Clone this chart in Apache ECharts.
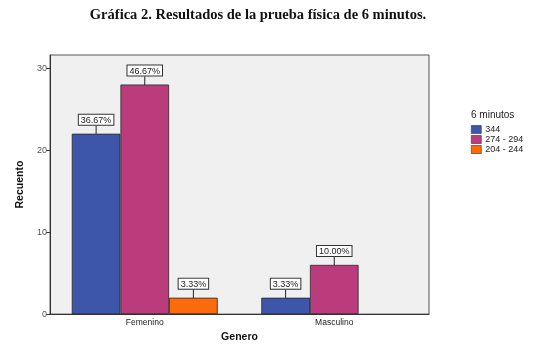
<!DOCTYPE html>
<html><head><meta charset="utf-8">
<script src="https://cdn.jsdelivr.net/npm/echarts@6/dist/echarts.min.js"></script>
<style>html,body{margin:0;padding:0;background:#fff}#c{width:536px;height:348px}</style>
</head><body><div id="c"></div>
<script>
var categories = ['Femenino', 'Masculino'];
var seriesNames = ['344', '274 - 294', '204 - 244'];
var s344 = [22, 2];
var s274 = [28, 6];
var s204 = [2, null];
var total = 60;
var yTicks = [0, 10, 20, 30];
var colors = ['#3d56aa', '#ba3c7d', '#fb6a0c'];

var chart = echarts.init(document.getElementById('c'));
function mk(name, data, color) {
  return {
    name: name, type: 'bar', data: data, barGap: '0%', barCategoryGap: '23%',
    itemStyle: { color: color, borderColor: '#2a2a2a', borderWidth: 0.8 },
    label: {
      show: true, position: 'top', distance: 0,
      formatter: function (p) { return (p.value / total * 100).toFixed(2) + '%'; },
      fontFamily: 'Liberation Sans', fontSize: 9, color: '#222',
      backgroundColor: '#fff', borderColor: '#333', borderWidth: 1, padding: [1, 2, 0, 2]
    },
    labelLayout: { dy: -9 },
    labelLine: { show: true, lineStyle: { color: '#222', width: 1 } }
  };
}
chart.setOption({
  animation: false,
  title: [
    { text: 'Gráfica 2. Resultados de la prueba física de 6 minutos.', left: 253, top: 3, textAlign: 'center',
      textStyle: { fontFamily: 'Liberation Serif', fontWeight: 'bold', fontSize: 14.5, color: '#111' } },
    { text: '6 minutos', left: 466, top: 105,
      textStyle: { fontFamily: 'Liberation Sans', fontWeight: 'normal', fontSize: 10, color: '#222' } }
  ],
  legend: {
    orient: 'vertical', left: 466, top: 120, itemWidth: 10, itemHeight: 8, itemGap: 1,
    icon: 'rect', data: seriesNames,
    textStyle: { fontFamily: 'Liberation Sans', fontSize: 9, color: '#222', padding: [0, 0, 0, -1] },
    itemStyle: { borderColor: '#333', borderWidth: 0.6 }
  },
  grid: { left: 50, right: 107, top: 55, bottom: 30, show: true, backgroundColor: '#f0f0f0', borderColor: '#555', borderWidth: 1 },
  xAxis: {
    type: 'category', data: categories, name: 'Genero', nameLocation: 'middle', nameGap: 15,
    nameTextStyle: { fontFamily: 'Liberation Sans', fontWeight: 'bold', fontSize: 10.5, color: '#111' },
    axisLine: { lineStyle: { color: '#333' } },
    axisTick: { alignWithLabel: true, length: 3, lineStyle: { color: '#333' } },
    axisLabel: { fontFamily: 'Liberation Sans', fontSize: 8.5, color: '#222', margin: 4 }
  },
  yAxis: {
    type: 'value', min: 0, max: 31.6, interval: 10, name: 'Recuento', nameLocation: 'middle', nameGap: 24,
    nameTextStyle: { fontFamily: 'Liberation Sans', fontWeight: 'bold', fontSize: 10.5, color: '#111' },
    axisLine: { show: true, lineStyle: { color: '#333' } },
    axisTick: { show: true, length: 4, lineStyle: { color: '#333' } },
    axisLabel: { fontFamily: 'Liberation Sans', fontSize: 9, color: '#555', margin: 3, showMaxLabel: false,
      formatter: function (v) { return yTicks.indexOf(v) >= 0 ? String(v) : ''; } },
    splitLine: { show: false }
  },
  series: [mk(seriesNames[0], s344, colors[0]), mk(seriesNames[1], s274, colors[1]), mk(seriesNames[2], s204, colors[2])]
});
</script></body></html>
